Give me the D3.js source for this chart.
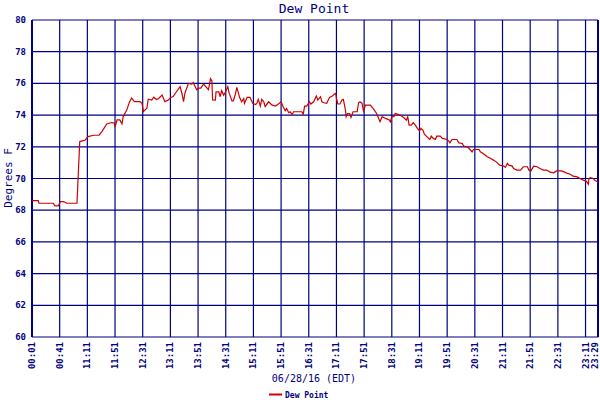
<!DOCTYPE html>
<html>
<head>
<meta charset="utf-8">
<script src="https://cdn.jsdelivr.net/npm/d3@7"></script>
<style>
  body { margin: 0; background: #fff; }
  text { font-family: "DejaVu Sans Mono", monospace; fill: #000080; }
</style>
</head>
<body>
<svg id="chart" width="600" height="400"></svg>
<script>
// tick labels along the bottom, one every 40 readings
const timeLabels = ["00:01", "00:41", "11:11", "11:51", "12:31", "13:11", "13:51", "14:31",
  "15:11", "15:51", "16:31", "17:11", "17:51", "18:31", "19:11", "19:51",
  "20:31", "21:11", "21:51", "22:31", "23:11", "23:29"];
const labelPos = [0, 40, 80, 120, 160, 200, 240, 280, 320, 360, 400, 440, 480, 520,
  560, 600, 640, 680, 720, 760, 800, 818];
const yTicks = [60, 62, 64, 66, 68, 70, 72, 74, 76, 78, 80];

// reading number (position on the axis) and dew point in F
const readingIdx = [0, 9, 10, 31, 33, 38, 41, 45, 48, 50, 65, 67, 69, 77, 81, 89, 97, 101, 108,
  115, 119, 120, 123, 127, 130, 132, 137, 141, 144, 148, 156, 159, 161, 166, 168, 173,
  176, 180, 183, 188, 192, 197, 200, 204, 209, 214, 217, 219, 221, 226, 231, 233, 238,
  241, 244, 248, 253, 255, 258, 260, 261, 265, 266, 270, 272, 274, 277, 279, 283, 285,
  289, 291, 294, 296, 300, 303, 306, 307, 311, 315, 319, 323, 325, 327, 330, 332, 335,
  337, 342, 347, 352, 356, 360, 363, 366, 368, 371, 373, 376, 378, 390, 392, 394, 397,
  401, 403, 407, 411, 413, 417, 419, 422, 426, 430, 434, 437, 439, 440, 442, 445, 448,
  450, 453, 454, 456, 459, 461, 464, 470, 472, 474, 477, 479, 482, 489, 494, 498, 501,
  503, 506, 511, 517, 518, 520, 523, 525, 528, 532, 537, 541, 543, 545, 548, 551, 554,
  557, 560, 562, 565, 567, 571, 575, 577, 580, 583, 585, 590, 593, 600, 602, 604, 607,
  614, 617, 622, 624, 629, 633, 636, 638, 646, 648, 653, 658, 663, 667, 671, 676, 682,
  684, 687, 689, 694, 696, 701, 706, 710, 716, 718, 721, 725, 730, 734, 739, 744, 748,
  754, 758, 765, 769, 774, 778, 782, 788, 792, 797, 800, 802, 804, 805, 807, 811, 813,
  817, 818];
const dewPoint = [68.6, 68.6, 68.44, 68.44, 68.27, 68.27, 68.54, 68.54, 68.5, 68.44, 68.44,
  70.4, 72.33, 72.43, 72.64, 72.73, 72.73, 72.96, 73.44, 73.53, 73.5, 73.24, 73.7, 73.7,
  73.45, 73.95, 74.32, 74.85, 75.07, 74.85, 74.85, 74.74, 74.22, 74.43, 75.0, 74.95,
  75.13, 74.98, 75.05, 75.27, 74.85, 74.95, 75.1, 75.17, 75.49, 75.8, 75.3, 74.85, 75.38,
  76.0, 75.95, 76.05, 75.6, 75.7, 75.7, 75.96, 75.7, 75.6, 76.3, 76.15, 74.96, 74.95,
  75.47, 75.47, 75.16, 75.54, 75.26, 75.4, 75.79, 75.37, 74.9, 74.9, 75.33, 75.75, 75.12,
  74.84, 75.05, 74.74, 75.12, 75.12, 74.74, 74.67, 74.74, 74.99, 74.57, 74.99, 74.84,
  74.53, 74.84, 74.63, 74.57, 74.7, 74.84, 74.53, 74.27, 74.42, 74.15, 74.21, 74.04,
  74.21, 74.21, 74.06, 74.57, 74.57, 74.84, 74.7, 74.84, 75.2, 74.95, 75.16, 74.84,
  74.78, 74.74, 75.12, 75.2, 75.33, 75.37, 75.05, 74.7, 74.7, 74.95, 74.99, 74.32, 73.9,
  74.1, 74.1, 73.85, 74.21, 74.21, 74.78, 74.84, 74.74, 74.27, 74.63, 74.63, 74.36, 74.1,
  73.79, 73.58, 73.9, 73.79, 73.68, 73.52, 73.9, 73.9, 74.1, 74.06, 74.0, 73.85, 73.68,
  73.9, 73.37, 73.37, 73.52, 73.37, 73.16, 73.0, 73.16, 73.05, 72.8, 72.63, 72.46, 72.67,
  72.53, 72.46, 72.67, 72.67, 72.53, 72.46, 72.38, 72.25, 72.46, 72.46, 72.25, 72.21,
  72.04, 72.0, 71.83, 71.68, 71.83, 71.83, 71.68, 71.54, 71.37, 71.26, 71.16, 71.05,
  70.84, 70.78, 70.7, 70.95, 70.84, 70.78, 70.63, 70.53, 70.53, 70.74, 70.74, 70.53,
  70.48, 70.78, 70.74, 70.63, 70.53, 70.53, 70.42, 70.36, 70.48, 70.48, 70.42, 70.32,
  70.27, 70.15, 70.1, 70.0, 69.9, 69.85, 69.79, 69.64, 70.0, 70.06, 70.0, 69.9, 69.79,
  69.73];

const navy = "#000080";
const plotL = 32, plotR = 598, plotT = 20, plotB = 337;

const svg = d3.select("#chart");

const x = d3.scaleLinear().domain([0, 818]).range([plotL, plotR]);
const y = d3.scaleLinear().domain([60, 80]).range([plotB, plotT]);

// grid
svg.append("g")
  .selectAll("line")
  .data(yTicks)
  .join("line")
  .attr("x1", plotL).attr("x2", plotR)
  .attr("y1", d => y(d)).attr("y2", d => y(d))
  .attr("stroke", navy).attr("stroke-width", 1.2);

svg.append("g")
  .selectAll("line")
  .data(labelPos)
  .join("line")
  .attr("x1", d => x(d)).attr("x2", d => x(d))
  .attr("y1", plotT).attr("y2", plotB)
  .attr("stroke", navy).attr("stroke-width", 1.2);

// heavier left axis and right edge
svg.append("line")
  .attr("x1", plotL).attr("x2", plotL).attr("y1", plotT).attr("y2", plotB)
  .attr("stroke", navy).attr("stroke-width", 2);
svg.append("line")
  .attr("x1", plotR).attr("x2", plotR).attr("y1", plotT).attr("y2", plotB)
  .attr("stroke", navy).attr("stroke-width", 2);

// y tick labels
svg.append("g")
  .selectAll("text")
  .data(yTicks)
  .join("text")
  .attr("x", 26)
  .attr("y", d => y(d) + 3)
  .attr("text-anchor", "end")
  .attr("font-size", 9)
  .attr("font-weight", "bold")
  .text(d => d);

// x tick labels, rotated (last one nudged so it stays on the page)
svg.append("g")
  .selectAll("text")
  .data(labelPos)
  .join("text")
  .attr("transform", d => `translate(${Math.min(x(d) + 3, 598)}, 342) rotate(-90)`)
  .attr("text-anchor", "end")
  .attr("font-size", 9)
  .attr("font-weight", "bold")
  .text((d, i) => timeLabels[i]);

// data line
const pts = readingIdx.map((d, i) => [d, dewPoint[i]]);
svg.append("path")
  .datum(pts)
  .attr("fill", "none")
  .attr("stroke", "#cc0000")
  .attr("stroke-width", 1.2)
  .attr("d", d3.line().x(d => x(d[0])).y(d => y(d[1])));

// titles
svg.append("text")
  .attr("x", 314).attr("y", 13)
  .attr("text-anchor", "middle")
  .attr("font-size", 13)
  .attr("fill", "#0000aa")
  .text("Dew Point");

svg.append("text")
  .attr("x", 314).attr("y", 382)
  .attr("text-anchor", "middle")
  .attr("font-size", 10)
  .text("06/28/16 (EDT)");

svg.append("text")
  .attr("transform", "translate(12, 178) rotate(-90)")
  .attr("text-anchor", "middle")
  .attr("font-size", 11)
  .text("Degrees F");

// legend
svg.append("line")
  .attr("x1", 269).attr("x2", 282).attr("y1", 394.5).attr("y2", 394.5)
  .attr("stroke", "#cc0000").attr("stroke-width", 2);
svg.append("text")
  .attr("x", 285).attr("y", 397.5)
  .attr("font-size", 8)
  .attr("font-weight", "bold")
  .text("Dew Point");
</script>
</body>
</html>
